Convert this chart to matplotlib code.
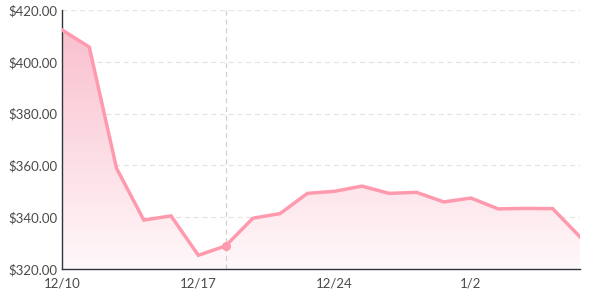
import matplotlib.pyplot as plt
import numpy as np
from matplotlib.colors import LinearSegmentedColormap
from matplotlib.patches import Polygon

######################### DATA #########################

dates = ["12/10", "12/11", "12/12", "12/13", "12/16", "12/17", "12/18", "12/19",
		 "12/20", "12/23", "12/24", "12/26", "12/27", "12/30", "12/31", "1/2",
		 "1/3", "1/6", "1/7", "1/8"]
prices = [412.3, 405.7, 358.9, 338.9, 340.5, 325.3, 328.9, 339.6, 341.4, 349.2,
		  350.0, 352.0, 349.2, 349.6, 345.9, 347.4, 343.2, 343.4, 343.3, 332.4]
shown_labels = ["12/10", "12/17", "12/24", "1/2"]
yticks = [320, 340, 360, 380, 400, 420]
hover_idx = 6

line_col = "#ff9aae"
text_col = "#4a4a4a"

######################### PLOT #########################

plt.rcParams['font.family'] = ['Lato', 'DejaVu Sans']

fig = plt.figure(figsize=(6.1, 3.0), dpi=100)
ax = fig.add_axes([62 / 610, 1 - 269 / 300, 518 / 610, 259 / 300])

x = np.arange(len(prices))
ax.set_xlim(0, len(prices) - 1)
ax.set_ylim(320, 420)

# gradient fill under the line
cmap = LinearSegmentedColormap.from_list("pinkfade", ["#fff8fa", "#f9bccb"])
grad = np.linspace(0, 1, 256).reshape(-1, 1)
img = ax.imshow(grad, cmap=cmap, aspect="auto", origin="lower",
				extent=[0, len(prices) - 1, 320, 420], zorder=1)
verts = [(0, 320)] + list(zip(x, prices)) + [(len(prices) - 1, 320)]
clip = Polygon(verts, closed=True, transform=ax.transData, facecolor="none", edgecolor="none")
ax.add_patch(clip)
img.set_clip_path(clip)

ax.plot(x, prices, color=line_col, lw=2.5, zorder=3, solid_joinstyle="miter")

# hover crosshair
ax.axvline(hover_idx, color="#d0d0d0", lw=0.9, ls=(0, (4, 3)), zorder=2)
ax.plot(hover_idx, prices[hover_idx], "o", color=line_col, ms=5.5, zorder=4)

ax.set_yticks(yticks)
ax.set_yticklabels(["$%.2f" % v for v in yticks])
ax.set_xticks([dates.index(d) for d in shown_labels])
ax.set_xticklabels(shown_labels)
ax.yaxis.grid(True, color="#e4e4e4", ls=(0, (4, 3)), lw=0.9)
ax.set_axisbelow(True)

for s in ["top", "right"]:
	ax.spines[s].set_visible(False)
for s in ["left", "bottom"]:
	ax.spines[s].set_color("#2e3440")
	ax.spines[s].set_linewidth(1.0)

ax.tick_params(axis="both", length=0, labelsize=9.5, colors=text_col)
ax.tick_params(axis="x", pad=6)
ax.tick_params(axis="y", pad=3)

fig.savefig("out.png", dpi=100)
